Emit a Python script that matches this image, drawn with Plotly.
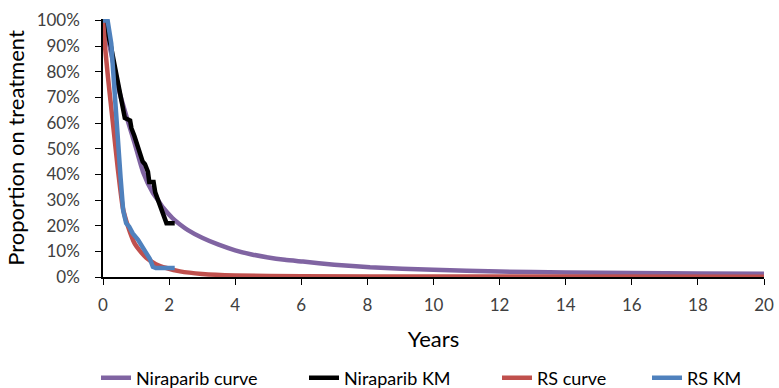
import plotly.graph_objects as go

# Niraparib parametric curve (years, % on treatment)
nir_curve_x = [0, 0.1, 0.25, 0.5, 0.77, 0.96, 1.21, 1.5, 1.66, 1.82, 2.1, 2.33, 2.57, 3.0, 3.5, 4.0, 4.5, 5, 5.5, 6.05, 7, 8.08, 10, 12, 14, 16, 18, 20]
nir_curve_y = [100, 96, 87, 72, 60, 52, 41, 33, 30, 27, 23, 20.5, 18.3, 15.3, 12.6, 10.4, 8.8, 7.6, 6.7, 6.0, 4.8, 3.8, 2.8, 2.1, 1.8, 1.6, 1.4, 1.3]

# Niraparib KM
nir_km_x = [0, 0.08, 0.24, 0.4, 0.47, 0.55, 0.62, 0.66, 0.82, 0.86, 0.95, 1.0, 1.1, 1.2, 1.27, 1.36, 1.4, 1.46, 1.53, 1.58, 1.67, 1.77, 1.85, 1.92, 2.17]
nir_km_y = [100, 98, 90, 80, 74, 70, 65, 62, 61, 58, 55, 53, 48, 45, 44, 41, 37, 37, 37, 33, 30, 27, 24, 21, 21]

# RS parametric curve
rs_curve_x = [0, 0.06, 0.15, 0.3, 0.45, 0.6, 0.75, 0.96, 1.1, 1.31, 1.6, 1.92, 2.33, 3, 4, 6, 10, 20]
rs_curve_y = [100, 90, 78, 60, 42, 27, 20, 13, 10.5, 7.5, 5, 3.5, 2.2, 1.2, 0.6, 0.3, 0.2, 0.1]

# RS KM
rs_km_x = [0, 0.14, 0.25, 0.38, 0.53, 0.61, 0.7, 0.79, 0.9, 1.06, 1.2, 1.31, 1.42, 1.51, 1.6, 2.17]
rs_km_y = [100, 100, 91, 65, 39, 26, 21, 19.7, 17, 14.5, 12, 9.3, 7, 4, 3.5, 3.5]

series_names = ["Niraparib curve", "Niraparib KM", "RS curve", "RS KM"]
series_colors = ["#8064A2", "#000000", "#C0504D", "#4F81BD"]

x_ticks = list(range(0, 21, 2))
y_ticks = list(range(0, 101, 10))
y_tick_labels = [f"{v}%" for v in y_ticks]

FONT = "Lato, 'Open Sans', sans-serif"
TICK_COLOR = "#404040"

series = [
    (nir_curve_x, nir_curve_y, "spline"),
    (nir_km_x, nir_km_y, "linear"),
    (rs_curve_x, rs_curve_y, "spline"),
    (rs_km_x, rs_km_y, "linear"),
]
legend_ids = ["legend", "legend2", "legend3", "legend4"]
legend_left_px = [96, 304, 497, 647]

fig = go.Figure()
for (xs, ys, shape), name, color, lid in zip(series, series_names, series_colors, legend_ids):
    line = dict(color=color, width=4.5, shape=shape)
    if shape == "spline":
        line["smoothing"] = 0.5
    fig.add_trace(go.Scatter(x=xs, y=ys, mode="lines", name=name, line=line, legend=lid))

legend_layout = {}
for lid, left in zip(legend_ids, legend_left_px):
    legend_layout[lid] = dict(orientation="h", x=left / 779, xref="container", xanchor="left",
                              y=10 / 388, yref="container", yanchor="middle",
                              font=dict(family=FONT, size=18, color="#000000"),
                              bgcolor="rgba(0,0,0,0)")

fig.update_layout(
    width=779, height=388,
    margin=dict(l=103, r=15, t=19, b=111, autoexpand=False),
    paper_bgcolor="white", plot_bgcolor="white",
    font=dict(family=FONT, size=17, color=TICK_COLOR),
    showlegend=True,
    **legend_layout,
)
fig.update_xaxes(range=[0, 20], tickmode="array", tickvals=x_ticks, showline=True, linecolor="black",
                 linewidth=1.5, ticks="outside", ticklen=6, tickcolor="black", showgrid=False,
                 zeroline=False, tickfont=dict(size=17, color=TICK_COLOR), ticklabelstandoff=6,
                 title=dict(text="Years", font=dict(size=22, color="#000000"), standoff=17))
fig.update_yaxes(range=[0, 100.6], tickmode="array", tickvals=y_ticks, ticktext=y_tick_labels,
                 showline=True, linecolor="black", linewidth=1.5, ticks="outside", ticklen=6,
                 tickcolor="black", showgrid=False, zeroline=False,
                 tickfont=dict(size=17, color=TICK_COLOR), ticklabelstandoff=12,
                 title=dict(text="Proportion on treatment", font=dict(size=22, color="#000000"),
                            standoff=6))

fig.write_html("out.html")
